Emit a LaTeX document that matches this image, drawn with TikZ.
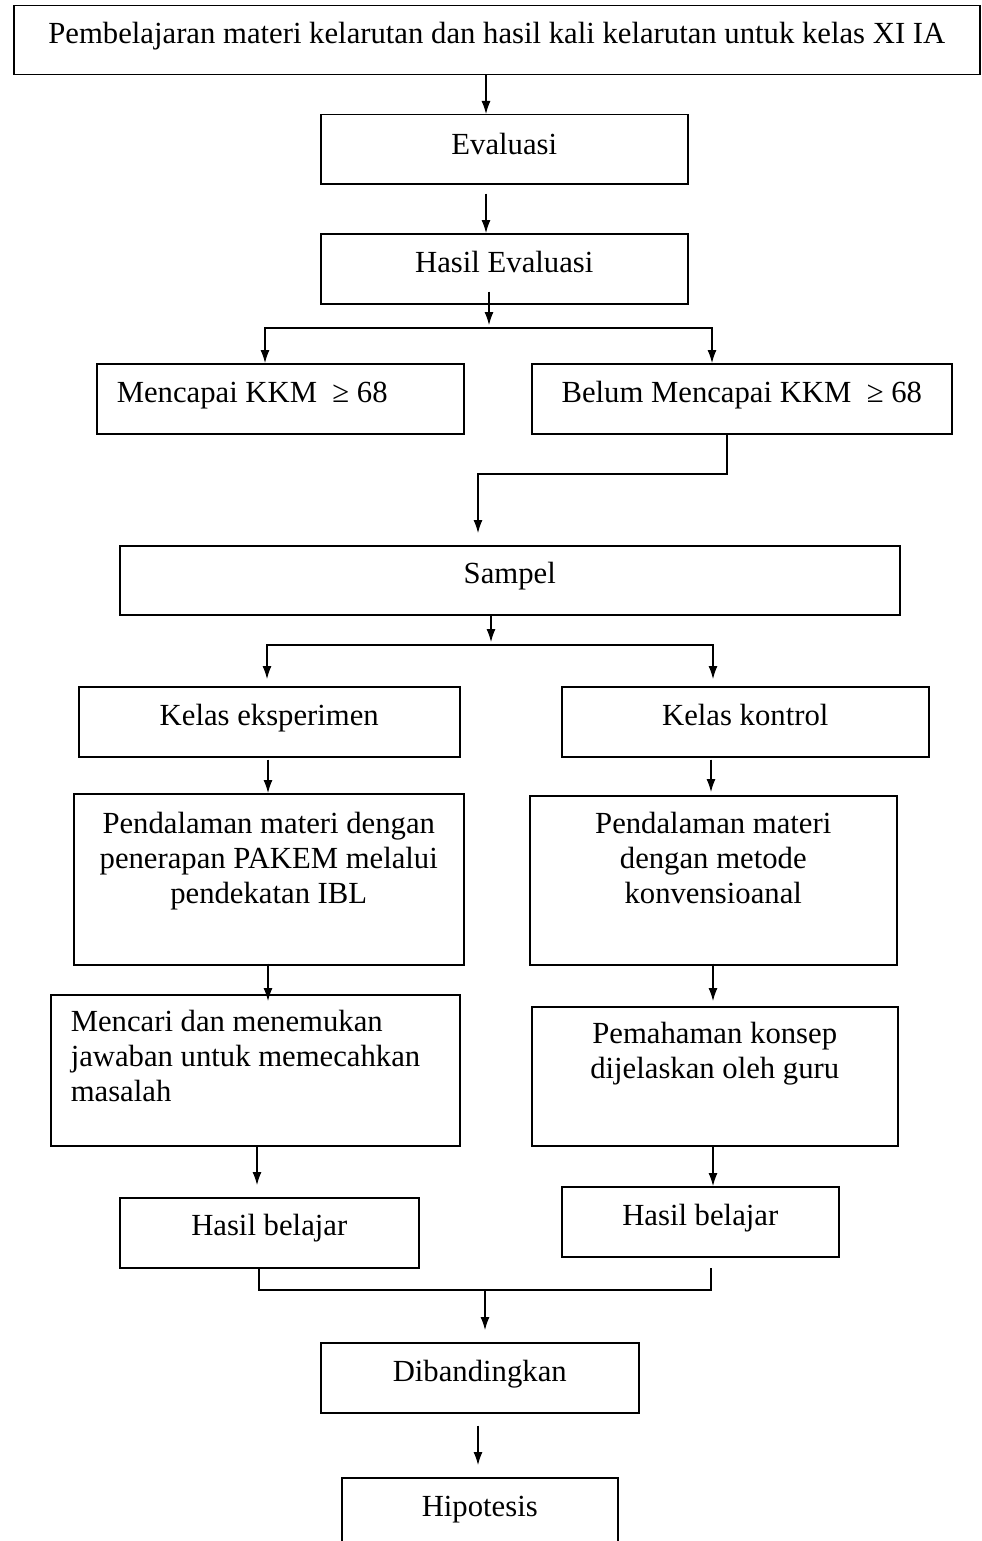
\documentclass[tikz,border=0pt]{standalone}
\usepackage{fontspec}
\setmainfont{Liberation Serif}
\usetikzlibrary{arrows.meta}

\begin{document}
\begin{tikzpicture}[x=0.5pt,y=-0.5pt,line cap=butt,line join=miter,
        kotak/.style={draw,line width=0.75pt,inner sep=0pt,anchor=north west,
            font=\fontsize{15.35pt}{17.4pt}\selectfont},
        panah/.style={line width=0.55pt,-{Latex[length=6.5pt,width=4.5pt]}},
        garis/.style={line width=0.55pt}]
        \useasboundingbox (0,0) rectangle (981,1541);
        \clip (0,0) rectangle (981,1541);

        \node[kotak,minimum width=483pt,text height=19pt,text depth=15.5pt]
            (judul) at (13,5) {Pembelajaran materi kelarutan dan hasil kali kelarutan untuk kelas XI IA};
        \node[kotak,minimum width=183.5pt,text height=20pt,text depth=14.5pt]
            (eval) at (320,114) {Evaluasi};
        \node[kotak,minimum width=183.5pt,text height=19.5pt,text depth=15.5pt]
            (hasileval) at (320,233) {Hasil Evaluasi};
        \node[kotak,inner xsep=10pt,text width=163.5pt,align=flush left,text height=19.5pt,text depth=15.5pt]
            (capai) at (96,363) {Mencapai KKM~ ≥ 68};
        \node[kotak,minimum width=210pt,text height=19.5pt,text depth=15.5pt]
            (belum) at (531,363) {Belum Mencapai KKM~ ≥ 68};
        \node[kotak,minimum width=390pt,text height=19pt,text depth=15.5pt]
            (sampel) at (119,545) {Sampel};
        \node[kotak,minimum width=190.5pt,text height=19.5pt,text depth=15.5pt]
            (eksp) at (78,686) {Kelas eksperimen};
        \node[kotak,minimum width=183.5pt,text height=19.5pt,text depth=15.5pt]
            (kontrol) at (561,686) {Kelas kontrol};
        \node[kotak,text width=195pt,align=flush center,text height=20pt,text depth=65.5pt]
            (dalamA) at (73,793) {Pendalaman materi dengan\\penerapan PAKEM melalui\\pendekatan IBL};
        \node[kotak,text width=183.5pt,align=flush center,text height=19pt,text depth=65.5pt]
            (dalamB) at (529,795) {Pendalaman materi\\dengan metode\\konvensioanal};
        \node[kotak,inner xsep=10pt,text width=184.5pt,align=flush left,text height=18.5pt,text depth=57pt]
            (cari) at (50,994) {Mencari dan menemukan\\jawaban untuk memecahkan\\masalah};
        \node[kotak,text width=183pt,align=flush center,text height=18.5pt,text depth=51pt]
            (paham) at (531,1006) {Pemahaman konsep\\dijelaskan oleh guru};
        \node[kotak,minimum width=149.5pt,text height=19pt,text depth=16pt]
            (hasilA) at (119,1197) {Hasil belajar};
        \node[kotak,minimum width=138.5pt,text height=19.5pt,text depth=15.5pt]
            (hasilB) at (561,1186) {Hasil belajar};
        \node[kotak,minimum width=159pt,text height=19.5pt,text depth=15.5pt]
            (banding) at (320,1342) {Dibandingkan};
        \node[kotak,minimum width=138pt,text height=19.5pt,text depth=22pt]
            (hipo) at (341,1477) {Hipotesis};

        \coordinate (cabA) at (489,328);
        \coordinate (belok) at (478,474);
        \coordinate (cabB) at (491,645);
        \coordinate (gabKiri) at (259,1290);
        \coordinate (gabKanan) at (711,1290);
        \coordinate (gab) at (485,1290);

        \draw[panah] (judul.south -| 486,0) -- (eval.north -| 486,0);
        \draw[panah,shorten <=4.5pt] (eval.south -| 486,0) -- (hasileval.north -| 486,0);

        \draw[panah,shorten <=-6.5pt,shorten >=1.5pt] (hasileval.south -| cabA) -- (cabA);
        \draw[panah] (cabA) -| (capai.north -| 265,0);
        \draw[panah] (cabA) -| (belum.north -| 712,0);

        \draw[panah,shorten >=6pt] (belum.south -| 727,0) |- (belok) -- (sampel.north -| belok);

        \draw[panah,shorten >=1.5pt] (sampel.south -| cabB) -- (cabB);
        \draw[panah,shorten >=3.5pt] (cabB) -| (eksp.north -| 267,0);
        \draw[panah,shorten >=3.5pt] (cabB) -| (kontrol.north -| 713,0);

        \draw[panah,shorten <=1pt] (eksp.south -| 268,0) -- (dalamA.north -| 268,0);
        \draw[panah,shorten <=1pt,shorten >=1.5pt] (kontrol.south -| 711,0) -- (dalamB.north -| 711,0);

        \draw[panah,shorten <=-1pt,shorten >=-3.5pt] (dalamA.south -| 268,0) -- (cari.north -| 268,0);
        \draw[panah,shorten <=-1pt,shorten >=2.5pt] (dalamB.south -| 713,0) -- (paham.north -| 713,0);

        \draw[panah,shorten >=6pt] (cari.south -| 257,0) -- (hasilA.north -| 257,0);
        \draw[panah] (paham.south -| 713,0) -- (hasilB.north -| 713,0);

        \draw[garis,shorten >=5pt] (hasilA.south -| gabKiri) -- (gabKiri) -- (gabKanan) -- (hasilB.south -| gabKanan);
        \draw[panah,shorten >=6pt] (gab) -- (banding.north -| gab);
        \draw[panah,shorten <=6pt,shorten >=6pt] (banding.south -| 478,0) -- (hipo.north -| 478,0);
    \end{tikzpicture}
\end{document}
